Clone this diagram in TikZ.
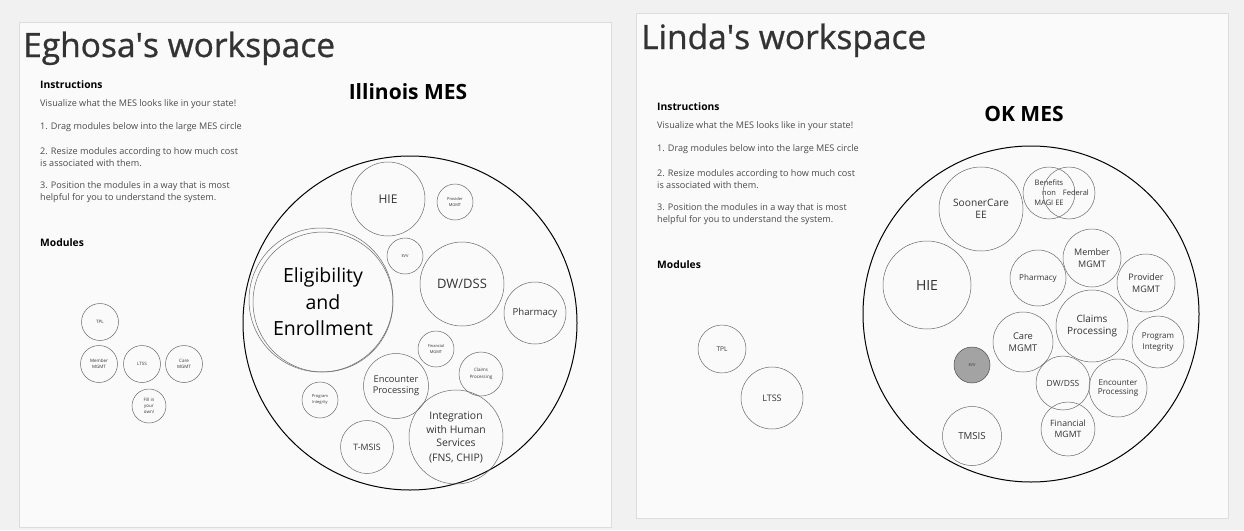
\documentclass[tikz,border=0pt]{standalone}
\usepackage{fontspec}
\setmainfont{Open Sans}
\newcommand{\fsz}[2]{\fontsize{#1}{#2}\selectfont}
\definecolor{bgc}{HTML}{F1F1F1}
\definecolor{panelc}{HTML}{FAFAFA}
\definecolor{edgec}{HTML}{DDDDDD}
\definecolor{titlec}{HTML}{333333}
\definecolor{instc}{HTML}{4A4A4A}
\definecolor{modc}{HTML}{6A6A6A}
\definecolor{evvc}{HTML}{A3A3A3}
\tikzset{
  panel/.style={draw=edgec,fill=panelc,line width=.6pt},
  wstitle/.style={anchor=base west,inner sep=0pt,text=titlec,font=\fsz{33.5}{36}\addfontfeature{FakeBold=0.8}},
  mestitle/.style={anchor=base,inner sep=0pt,text=black,font=\fsz{21}{24}\bfseries},
  head/.style={anchor=west,inner sep=0pt,text=black,font=\fsz{10.3}{12}\bfseries},
  instr/.style={anchor=west,inner sep=0pt,text=instc,font=\fsz{9.1}{12}},
  mes/.style={circle,draw=black,line width=1pt,inner sep=0pt},
  mod/.style={circle,draw=modc,line width=.5pt,inner sep=0pt,align=center,text=titlec}
}
\begin{document}
\begin{tikzpicture}[x=1pt,y=-1pt]
\fill[bgc] (0,0) rectangle (1244,530);
\useasboundingbox (0,0) rectangle (1244,530);
% two workspaces
\draw[panel] (19,22) rectangle (611,527);
\draw[panel] (636,13) rectangle (1228,518);
\node[wstitle] (eghosa) at (23,57) {Eghosa\textquotesingle s workspace};
\node[wstitle] (linda) at (641,49) {Linda\textquotesingle s workspace};
% instructions, same text in both
\foreach \p/\dx/\dy in {e/0/0,l/617/22}{
  \node[head] (instr\p) at (40+\dx,85+\dy) {Instructions};
  \node[instr] (vis\p) at (40+\dx,104+\dy) {Visualize what the MES looks like in your state!};
  \node[instr] (one\p) at (40+\dx,127+\dy) {1. Drag modules below into the large MES circle};
  \node[instr,align=left] (two\p) at (40+\dx,157+\dy) {2. Resize modules according to how much cost\\is associated with them.};
  \node[instr,align=left] (three\p) at (40+\dx,192+\dy) {3. Position the modules in a way that is most\\helpful for you to understand the system.};
  \node[head] (modules\p) at (40+\dx,243+\dy) {Modules};
}
% Illinois
\node[mestitle] (ilname) at (408,99) {Illinois MES};
\node[mes,minimum size=334pt] (ilmes) at (410,323) {};
\node[mod,minimum size=74pt,font=\fsz{12}{14}] (ilhie) at (388,199) {HIE};
\node[mod,minimum size=36pt,font=\fsz{4}{5.5}] (ilprov) at (455,202) {Provider\\MGMT};
\node[mod,minimum size=36pt,font=\fsz{4}{5.5}] (ilevv) at (405,256) {EVV};
\draw[modc,line width=.5pt] (321,300) circle (72);
\node[mod,minimum size=140pt,font=\fsz{19.5}{26.5},text=black] (ilee) at (323,302) {Eligibility\\and\\Enrollment};
\node[mod,minimum size=84pt,font=\fsz{13}{16}] (ildw) at (462,284) {DW/DSS};
\node[mod,minimum size=62pt,font=\fsz{9.6}{11}] (ilpharm) at (535,313) {Pharmacy};
\node[mod,minimum size=36pt,font=\fsz{4}{6}] (ilfin) at (436,349) {Financial\\MGMT};
\node[mod,minimum size=44pt,font=\fsz{4.5}{7}] (ilclaims) at (481,374) {Claims\\Processing};
\node[mod,minimum size=65pt,font=\fsz{9.3}{11.5}] (ilenc) at (396,386) {Encounter\\Processing};
\node[mod,minimum size=36pt,font=\fsz{4}{6}] (ilpi) at (320,400) {Program\\Integrity};
\node[mod,minimum size=53pt,font=\fsz{8.8}{11}] (iltmsis) at (367,447) {T-MSIS};
\node[mod,minimum size=94pt,font=\fsz{10.4}{14}] (ilint) at (456,437) {Integration\\with Human\\Services\\(FNS, CHIP)};
% Illinois modules left over
\node[mod,minimum size=37pt,font=\fsz{4.5}{6}] (iltpl) at (100,322) {TPL};
\foreach \n/\x/\t in {ilmem/99/Member\\MGMT,illtss/142/LTSS,ilcare/184/Care\\MGMT}
  \node[mod,minimum size=37pt,font=\fsz{4.5}{6}] (\n) at (\x,364) {\t};
\node[mod,minimum size=34pt,font=\fsz{4.5}{6}] (ilfill) at (149,406) {Fill in\\your\\own!};
% Oklahoma
\node[mestitle] (okname) at (1024,121) {OK MES};
\node[mes,minimum size=336pt] (okmes) at (1031,314) {};
\node[mod,minimum size=84pt,font=\fsz{10.2}{12.5}] (oksooner) at (981,209) {SoonerCare\\EE};
\node[mod,minimum size=52pt,font=\fsz{7.5}{10}] (okben) at (1049,193) {Benefits\\non\\MAGI EE};
\node[mod,minimum size=52pt,font=\fsz{7.5}{10}] (okfed) at (1069,193) {\phantom{non}Federal};
\node[mod,minimum size=88pt,font=\fsz{14}{15}] (okhie) at (927,285) {HIE};
\node[mod,minimum size=56pt,font=\fsz{8.1}{10}] (okpharm) at (1038,278) {Pharmacy};
\node[mod,minimum size=58pt,font=\fsz{9}{11.5}] (okmem) at (1092,258) {Member\\MGMT};
\node[mod,minimum size=58pt,font=\fsz{9}{11.5}] (okprov) at (1146,283) {Provider\\MGMT};
\node[mod,minimum size=72pt,font=\fsz{10}{12}] (okclaims) at (1092,326) {Claims\\Processing};
\node[mod,minimum size=60pt,font=\fsz{9.3}{12.5}] (okcare) at (1023,342) {Care\\MGMT};
\node[mod,minimum size=52pt,font=\fsz{8}{10.5}] (okpi) at (1158,342) {Program\\Integrity};
\node[mod,minimum size=36pt,draw=black!70,fill=evvc,font=\fsz{4}{5.5}] (okevv) at (972,365) {EVV};
\node[mod,minimum size=54pt,font=\fsz{8.5}{11}] (okdw) at (1063,383) {DW/DSS};
\node[mod,minimum size=58pt,font=\fsz{8.1}{9.5}] (okenc) at (1118,388) {Encounter\\Processing};
\node[mod,minimum size=54pt,font=\fsz{8.7}{11}] (okfin) at (1068,429) {Financial\\MGMT};
\node[mod,minimum size=59pt,font=\fsz{9.7}{12}] (oktmsis) at (972,436) {TMSIS};
% Oklahoma modules left over
\node[mod,minimum size=48pt,font=\fsz{6.5}{8}] (oktpl) at (722,349) {TPL};
\node[mod,minimum size=62pt,font=\fsz{9}{12}] (okltss) at (772,398) {LTSS};
\end{tikzpicture}
\end{document}
